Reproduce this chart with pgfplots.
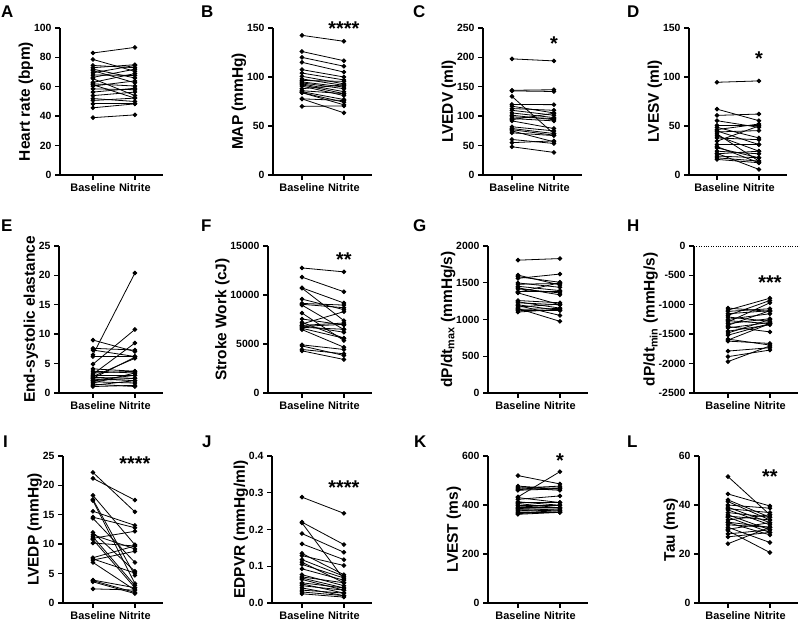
\documentclass[border=0pt]{standalone}
\usepackage{fontspec}
\setmainfont{Liberation Sans}
\usepackage{pgfplots}
\usepackage{pgfplotstable}
\pgfplotsset{compat=1.18}

\newcommand\fs[1]{\fontsize{#1}{#1}\selectfont\bfseries}

% paired data: b = Baseline, n = Nitrite (one row per subject)
\pgfplotstableread{
b n
83 86.8
78.6 70.5
74.5 73
73 75
72 66
71 62.7
69.5 74.5
68 67.7
66.4 72
65.5 54
63 69
62 60.5
61.4 52.3
60.5 64
58.6 58
56.4 59
54 56.4
52 50
50.7 52.3
48.4 48.4
45.7 48.4
39 40.9
}\tabA
\pgfplotstableread{
b n
142.5 136.4
126 116.6
120 111
115 105
107.5 100
104 97
100.7 93
98 91.4
96.5 95.5
95 89.7
94 88
93 85
92 83
90.7 81
88 92
86 83
85 77
84 74.3
84 71.6
77.7 63.4
77.7 76
70 70.5
}\tabB
\pgfplotstableread{
b n
197.5 194
144 145
143 142
133.7 70
120 119.6
117 105.5
113 110
110 101.6
105.5 97.6
101.6 94
98.7 96
96 92
94 105
92 79
82 75
79 70.5
77 67.7
75 56.4
71.7 67
60.4 53.6
55 58
48 38.4
}\tabC
\pgfplotstableread{
b n
94.6 96
67.2 55.4
60.8 62.2
55.4 48.6
50.7 50.7
48.6 37.8
46.3 52
45 31
43.9 45.3
41.9 14.2
40 24.3
37.8 36
34.5 50
31 31
29 12.5
27.7 17.6
24.3 21.6
22 5.7
21.6 24.3
19.3 17.6
17.5 14.2
15.9 12.5
}\tabD
\pgfplotstableread{
b n
9 7.05
7.6 7.3
7.3 6.2
6.5 20.4
6.2 6.2
4.9 10.8
4.1 3.7
3.7 3.4
3.4 3.7
3.2 8.5
3 3
2.8 5.9
2.65 2.5
2.5 6.1
2.4 2.1
2.2 3
2.1 2.5
1.9 1.7
1.7 3.4
1.5 1.1
1.3 2.1
1.1 1.3
}\tabE
\pgfplotstableread{
b n
12760 12360
11820 10330
10730 9180
10700 7380
9580 8500
9140 8970
8970 6470
8160 5350
7550 6940
7210 5590
7040 8300
6900 7140
6870 6200
6800 7000
6700 6500
6600 5590
6470 4670
4910 4440
4800 3830
4440 4000
4300 3420
9050 8700
}\tabF
\pgfplotstableread{
b n
1807 1829
1604 1470
1582 1506
1560 1618
1497 1438
1480 1490
1452 1393
1430 1335
1416 1362
1380 1380
1370 1500
1362 1200
1258 1227
1240 1155
1227 1200
1200 1124
1190 1056
1169 1210
1150 975
1137 1150
1120 1124
1101 1140
}\tabG
\pgfplotstableread{
b n
-1056 -1112
-1090 -888
-1112 -1067
-1152 -1100
-1180 -927
-1208 -1281
-1247 -1152
-1270 -1320
-1292 -966
-1320 -1236
-1348 -1100
-1370 -1461
-1393 -1300
-1449 -1340
-1480 -1250
-1517 -1320
-1584 -1685
-1600 -1320
-1618 -1657
-1787 -1730
-1882 -1770
-1966 -1700
}\tabH
\pgfplotstableread{
b n
22.2 15.5
21.2 17.5
18.3 9.9
17.6 4.7
17.4 3.3
15.6 13.2
14.6 12.8
12 5.4
11.6 9.2
11.25 3
11 12.2
10.8 2.6
10.2 9.7
7.7 9.7
7.5 5.1
7.3 8.8
6.9 2.2
3.9 2.6
3.8 1.8
3.6 1.6
2.4 2.2
14.4 6.9
}\tabI
\pgfplotstableread{
b n
0.288 0.244
0.22 0.159
0.218 0.065
0.189 0.138
0.161 0.118
0.135 0.077
0.129 0.102
0.118 0.073
0.111 0.055
0.105 0.068
0.093 0.062
0.077 0.047
0.071 0.055
0.068 0.041
0.064 0.035
0.055 0.041
0.052 0.027
0.047 0.035
0.041 0.02
0.035 0.027
0.03 0.02
0.025 0.016
}\tabJ
\pgfplotstableread{
b n
520 486
477 466
469 477
463 470
460 466
433 536
430 410
423 437
413 399
410 410
406 388
400 400
396 388
390 390
386 379
383 384
379 370
375 379
370 370
365 372
362 370
470 460
}\tabK
\pgfplotstableread{
b n
51.6 36
44.5 39.6
42.1 35
41.4 33.9
40 38.7
39.1 32.8
38.5 36.9
38 31.9
36.9 35
36 29.9
35.5 33.9
35 28.8
33.9 36
33 30.9
32.8 27.8
31.9 30.9
30.9 24.7
30.1 32.8
29.5 20.6
28.2 29.9
27 28.8
24.2 30.9
}\tabL

\pgfplotsset{
  prism/.style={
    scale only axis, height=147bp, anchor=south west, clip=false,
    axis x line=bottom, axis y line=left,
    axis line style={-, line width=1.8bp, black},
    tick align=outside, major tick length=5bp,
    every tick/.style={black, line width=1.4bp},
    xtick={0,1}, xticklabels={Baseline,Nitrite}, xmax=1.67,
    xticklabel style={font=\fs{11}},
    ylabel style={font=\fs{15.5}}, ylabel shift=-6bp,
    scaled y ticks=false,
    yticklabel style={font=\fs{10.5}, /pgf/number format/.cd, fixed, 1000 sep={}, assume math mode=true},
  },
  pair/.style={black, line width=0.8bp, mark=*, mark size=1.9bp},
}
\tikzset{stars/.style={font=\fs{20}, anchor=base, yshift=-11.5bp}}

% one line with two dots for each row of a table
\newcommand\pairs[1]{%
  \pgfplotstablegetrowsof{#1}%
  \pgfmathtruncatemacro\lastrow{\pgfplotsretval-1}%
  \pgfplotsforeachungrouped \rr in {0,...,\lastrow}{%
    \pgfplotstablegetelem{\rr}{b}\of{#1}\let\vb\pgfplotsretval
    \pgfplotstablegetelem{\rr}{n}\of{#1}\let\vn\pgfplotsretval
    \edef\tmp{\noexpand\addplot[pair] coordinates {(0,\vb) (1,\vn)};}\tmp
  }%
}

\begin{document}
\begin{tikzpicture}[x=1bp,y=1bp]
\useasboundingbox (0,0) rectangle (800,625);

% ---- row 1
\begin{axis}[prism, at={(60bp,450bp)}, width=103bp, xmin=-0.786,
  ymin=0, ymax=100, ytick={0,20,40,60,80,100}, ylabel={Heart rate (bpm)}]
\pairs{\tabA}
\end{axis}
\begin{axis}[prism, at={(273bp,450bp)}, width=99bp, xmin=-0.69,
  ymin=0, ymax=150, ytick={0,50,100,150}, ylabel={MAP (mmHg)}]
\pairs{\tabB}
\node[stars] at (axis cs:1,154) {****};
\end{axis}
\begin{axis}[prism, at={(483bp,450bp)}, width=99bp, xmin=-0.69,
  ymin=0, ymax=250, ytick={0,50,100,150,200,250}, ylabel={LVEDV (ml)}]
\pairs{\tabC}
\node[stars] at (axis cs:1,231) {*};
\end{axis}
\begin{axis}[prism, at={(689bp,450bp)}, width=98bp, xmin=-0.667,
  ymin=0, ymax=150, ytick={0,50,100,150}, ylabel={LVESV (ml)}]
\pairs{\tabD}
\node[stars] at (axis cs:1,123.5) {*};
\end{axis}

% ---- row 2
\begin{axis}[prism, at={(59bp,232bp)}, width=104bp, xmin=-0.81,
  ymin=0, ymax=25, ytick={0,5,10,15,20,25}, ylabel={End-systolic elastance}]
\pairs{\tabE}
\end{axis}
\begin{axis}[prism, at={(268bp,232bp)}, width=104bp, xmin=-0.81,
  ymin=0, ymax=15000, ytick={0,5000,10000,15000}, ylabel={Stroke Work (cJ)}]
\pairs{\tabF}
\node[stars] at (axis cs:1,14080) {**};
\end{axis}
\begin{axis}[prism, at={(488bp,232bp)}, width=100bp, xmin=-0.714,
  ymin=0, ymax=2000, ytick={0,500,1000,1500,2000},
  ylabel={dP/dt\textsubscript{max} (mmHg/s)}]
\pairs{\tabG}
\end{axis}
\begin{axis}[prism, at={(694bp,232bp)}, width=104bp, xmin=-0.81,
  ymin=-2500, ymax=0, ytick={-2500,-2000,-1500,-1000,-500,0},
  yticklabels={-2500,-2000,-1500,-1000,-500,0},
  ylabel={dP/dt\textsubscript{min} (mmHg/s)}]
\addplot[black, line width=0.9bp, dash pattern=on 1bp off 1.4bp] coordinates {(-0.81,0) (1.71,0)};
\pairs{\tabH}
\node[stars] at (axis cs:1,-544) {***};
\end{axis}

% ---- row 3
\begin{axis}[prism, at={(63bp,22bp)}, width=100bp, xmin=-0.714,
  ymin=0, ymax=25, ytick={0,5,10,15,20,25}, ylabel={LVEDP (mmHg)}]
\pairs{\tabI}
\node[stars] at (axis cs:1,24.5) {****};
\end{axis}
\begin{axis}[prism, at={(272bp,22bp)}, width=100bp, xmin=-0.714,
  ymin=0, ymax=0.4, ytick={0,0.1,0.2,0.3,0.4},
  yticklabels={0.0,0.1,0.2,0.3,0.4}, ylabel={EDPVR (mmHg/ml)}]
\pairs{\tabJ}
\node[stars] at (axis cs:1,0.3265) {****};
\end{axis}
\begin{axis}[prism, at={(488bp,22bp)}, width=100bp, xmin=-0.714,
  ymin=0, ymax=600, ytick={0,200,400,600}, ylabel={LVEST (ms)}]
\pairs{\tabK}
\node[stars] at (axis cs:1,600) {*};
\end{axis}
\begin{axis}[prism, at={(699bp,22bp)}, width=99bp, xmin=-0.69,
  ymin=0, ymax=60, ytick={0,20,40,60}, ylabel={Tau (ms)}]
\pairs{\tabL}
\node[stars] at (axis cs:1,53.5) {**};
\end{axis}

% panel letters
\begin{scope}[every node/.style={anchor=base west, inner sep=0pt, font=\fs{17}}]
\node at (1,607) {A};
\node at (201,607) {B};
\node at (413,607) {C};
\node at (627,607) {D};
\node at (1,393) {E};
\node at (201,393) {F};
\node at (413,393) {G};
\node at (627,393) {H};
\node at (3,177) {I};
\node at (202,177) {J};
\node at (414,177) {K};
\node at (627,177) {L};
\end{scope}
\end{tikzpicture}
\end{document}
